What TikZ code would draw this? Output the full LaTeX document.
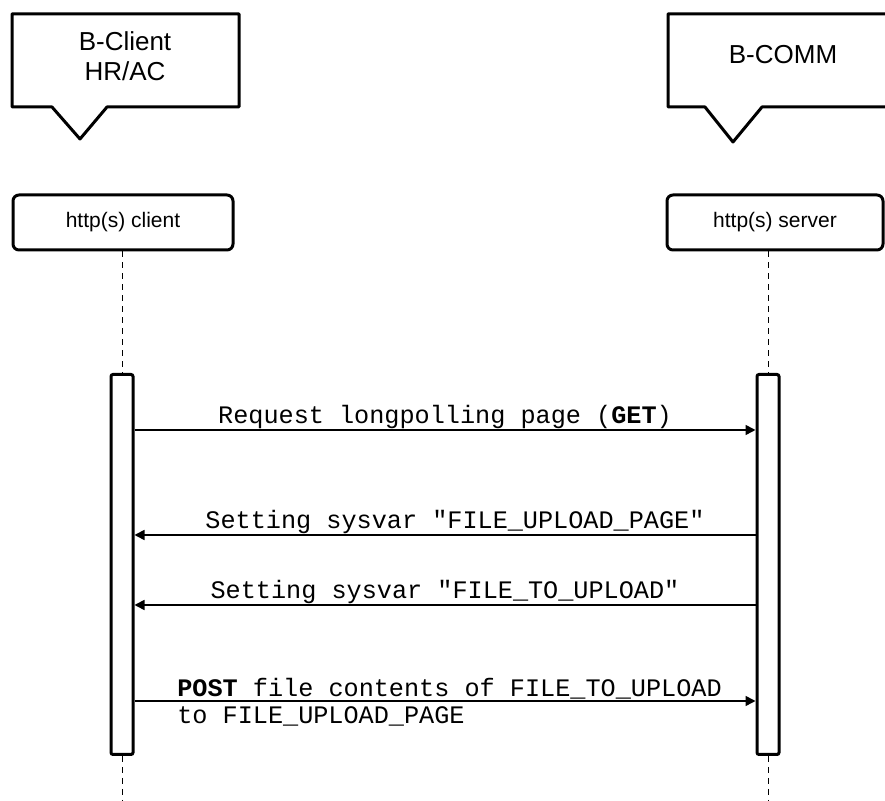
\documentclass[tikz,border=0pt]{standalone}
\usepackage{fontspec}
\setmainfont{Liberation Sans}
\setmonofont{Liberation Mono}
\usetikzlibrary{arrows.meta, positioning}

\begin{document}
\begin{tikzpicture}[x=0.5pt, y=-0.5pt,
      title/.style={font=\fontsize{13}{15}\selectfont, align=center, inner sep=0},
      callout/.style={line width=1.5pt, line join=round},
      lifebox/.style={rectangle, draw, line width=1.5pt, rounded corners=3pt,
                      minimum height=27.5pt, font=\fontsize{10.5}{12}\selectfont},
      actbox/.style={rectangle, draw, line width=1.5pt, rounded corners=1pt,
                     minimum width=11pt, minimum height=190pt, inner sep=0},
      life/.style={line width=0.5pt, dash pattern=on 3pt off 2.5pt},
      msg/.style={-{Triangle[length=5pt, width=5pt]}, line width=0.8pt},
      lbl/.style={font=\ttfamily\fontsize{12.6}{13.5}\selectfont, inner sep=0}
    ]
    \useasboundingbox (0,0) rectangle (885,801);
    \clip (0,0) rectangle (885,801);

    % callouts
    \draw[callout] (12,14) -- (239,14) -- (239,107) -- (107,107) -- (80,139)
      -- (52,107) -- (12,107) -- cycle;
    \draw[callout] (668,14) -- (895,14) -- (895,107) -- (762,107) -- (733,142)
      -- (705,107) -- (668,107) -- cycle;
    \node[title] (client-title) at (125,56) {B-Client\\HR/AC};
    \node[title] (server-title) at (783,55) {B-COMM};

    % lifelines
    \node[lifebox, minimum width=110pt] (client) at (123,222.5) {http(s) client};
    \node[lifebox, minimum width=108pt] (server) at (775,222.5) {http(s) server};
    \node[actbox, anchor=north] (client-act) at (122,373) {};
    \node[actbox, anchor=north] (server-act) at (768,373) {};

    \coordinate (bottom) at (0,801);
    \draw[life] (client-act.north |- client.south) -- (client-act.north);
    \draw[life] (server-act.north |- server.south) -- (server-act.north);
    \draw[life] (client-act.south) -- (client-act.south |- bottom);
    \draw[life] (server-act.south) -- (server-act.south |- bottom);

    % messages
    \coordinate (m1) at (0,430);
    \coordinate (m2) at (0,535);
    \coordinate (m3) at (0,605);
    \coordinate (m4) at (0,701);

    \draw[msg] (client-act.east |- m1) -- (server-act.west |- m1)
      node[lbl, midway, anchor=base, yshift=3pt] {Request longpolling page (\textbf{GET})};
    \draw[msg] (server-act.west |- m2) -- (client-act.east |- m2)
      node[lbl, midway, anchor=base, yshift=3pt, xshift=5pt] {Setting sysvar "FILE\_UPLOAD\_PAGE"};
    \draw[msg] (server-act.west |- m3) -- (client-act.east |- m3)
      node[lbl, midway, anchor=base, yshift=3pt] {Setting sysvar "FILE\_TO\_UPLOAD"};
    \draw[msg] (client-act.east |- m4) -- (server-act.west |- m4)
      node[lbl, at start, anchor=north west, xshift=21pt, yshift=12pt, align=left]
      {\textbf{POST} file contents of FILE\_TO\_UPLOAD\\to FILE\_UPLOAD\_PAGE};
  \end{tikzpicture}
\end{document}
